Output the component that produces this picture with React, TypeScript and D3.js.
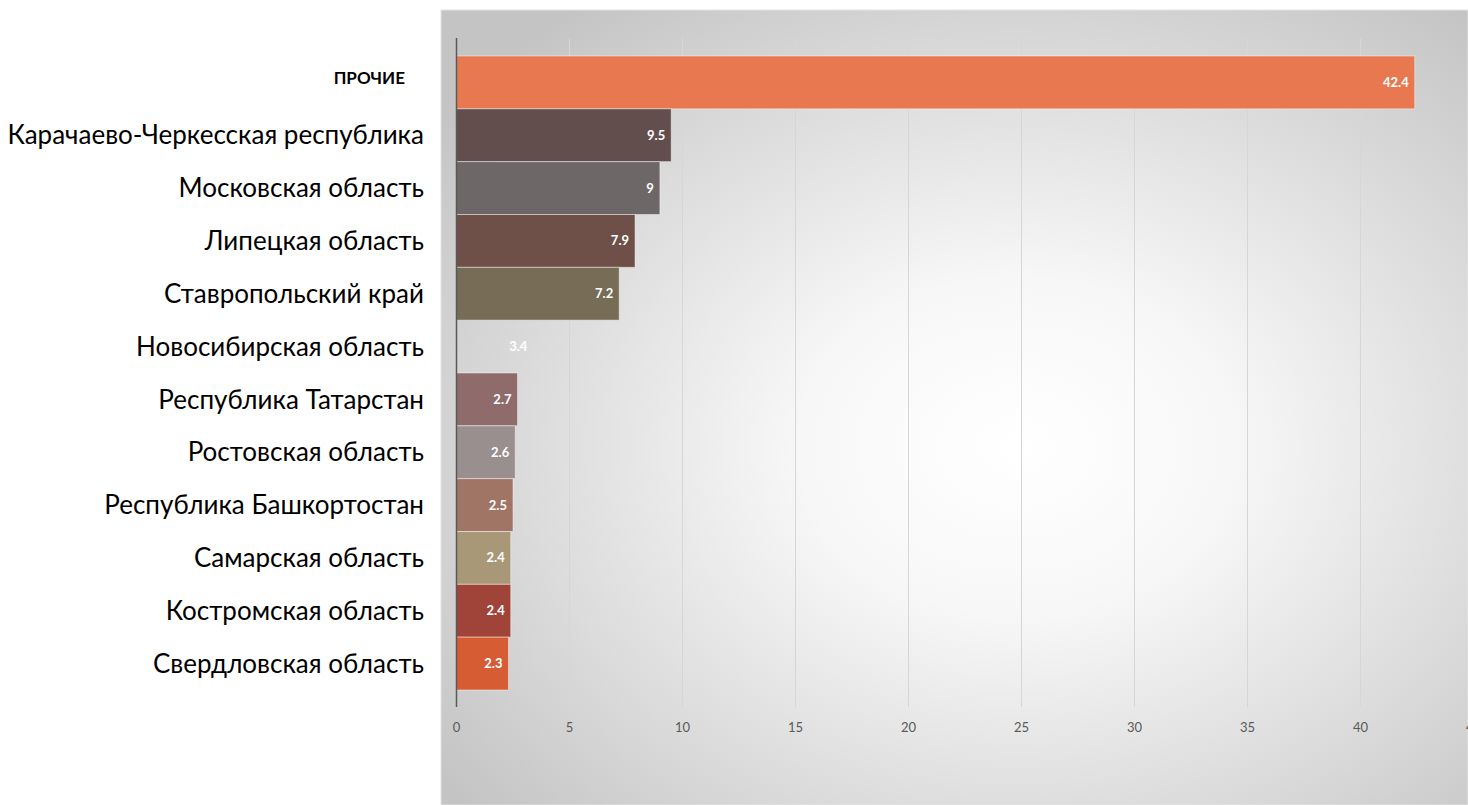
import React from "react";
import * as d3 from "d3";

const categories = [
  "ПРОЧИЕ",
  "Карачаево-Черкесская республика",
  "Московская область",
  "Липецкая область",
  "Ставропольский край",
  "Новосибирская область",
  "Республика Татарстан",
  "Ростовская область",
  "Республика Башкортостан",
  "Самарская область",
  "Костромская область",
  "Свердловская область",
];
const values = [42.4, 9.5, 9, 7.9, 7.2, 3.4, 2.7, 2.6, 2.5, 2.4, 2.4, 2.3];
const colors = [
  "#E8784F", "#634E4E", "#6E6767", "#6E5048", "#776C55", "none",
  "#8F6B6B", "#9A8F8F", "#A07565", "#A89878", "#A0443A", "#D65C34",
];
const ticks = [0, 5, 10, 15, 20, 25, 30, 35, 40, 45];

const W = 1468;
const H = 805;

export default function App() {
  const x = d3.scaleLinear().domain([0, 45]).range([456.5, 1473.5]);
  const y = d3.scaleBand<string>().domain(categories).range([56, 690]).padding(0);
  const gridTop = 38;
  const gridBottom = 707;
  const font = "Lato, 'Open Sans', 'Noto Sans', sans-serif";

  return (
    <svg width={W} height={H} style={{ position: "absolute", left: 0, top: 0 }}>
      <defs>
        <radialGradient id="bg" cx="0.56" cy="0.55" r="0.7" fx="0.56" fy="0.55">
          <stop offset="0" stopColor="#ffffff" />
          <stop offset="0.3" stopColor="#f7f7f7" />
          <stop offset="1" stopColor="#c4c4c4" />
        </radialGradient>
      </defs>
      <rect x={0} y={0} width={W} height={H} fill="#ffffff" />
      <rect x={441} y={10} width={W - 441} height={H - 10} fill="url(#bg)" stroke="#e4e4e4" strokeWidth={1} />
      {ticks.slice(1).map((t) => (
        <line key={"g" + t} x1={x(t)} x2={x(t)} y1={gridTop} y2={gridBottom} stroke="#d6d6d6" strokeWidth={1} />
      ))}
      {categories.map((c, i) => (
        <rect
          key={"b" + c}
          x={x(0)}
          y={y(c)!}
          width={x(values[i]) - x(0)}
          height={y.bandwidth()}
          fill={colors[i]}
          stroke={colors[i] === "none" ? "none" : "rgba(255,255,255,0.45)"}
          strokeWidth={1}
        />
      ))}
      <line x1={456.5} x2={456.5} y1={gridTop} y2={gridBottom} stroke="#595959" strokeWidth={1.5} />
      {categories.map((c, i) => (
        <text
          key={"v" + c}
          x={x(values[i]) - 6}
          y={y(c)! + y.bandwidth() / 2}
          dy="0.35em"
          textAnchor="end"
          fill="#ffffff"
          fontFamily={font}
          fontWeight="bold"
          fontSize={13}
        >
          {String(values[i])}
        </text>
      ))}
      {categories.map((c, i) => (
        <text
          key={"l" + c}
          x={i === 0 ? 405 : 424}
          y={y(c)! + y.bandwidth() / 2 + (i === 0 ? -4 : 0)}
          dy="0.35em"
          textAnchor="end"
          fill="#000000"
          fontFamily={font}
          fontWeight={i === 0 ? "bold" : "normal"}
          fontSize={i === 0 ? 17 : 26}
        >
          {c}
        </text>
      ))}
      {ticks.map((t) => (
        <text
          key={"t" + t}
          x={x(t)}
          y={727}
          dy="0.35em"
          textAnchor="middle"
          fill="#595959"
          fontFamily={font}
          fontSize={13}
        >
          {t}
        </text>
      ))}
    </svg>
  );
}
